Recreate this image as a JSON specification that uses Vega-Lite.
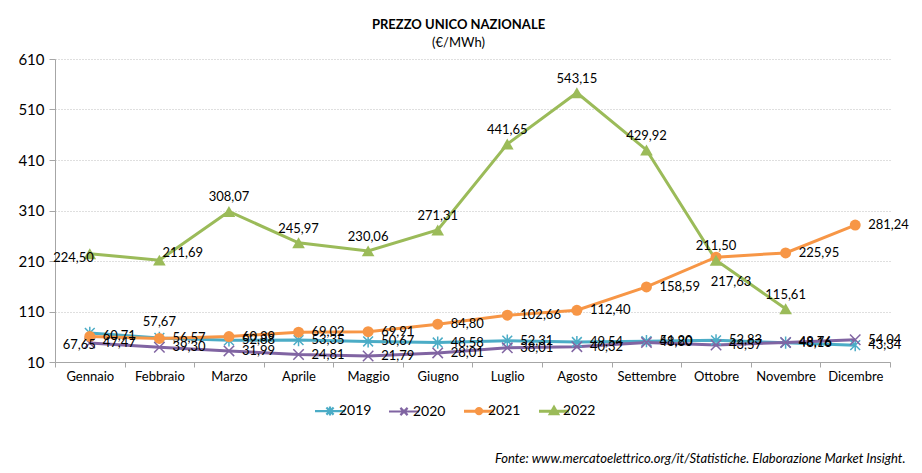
{
  "$schema": "https://vega.github.io/schema/vega-lite/v6.json",
  "width": 835,
  "height": 303,
  "autosize": {"type": "none"},
  "padding": {"left": 55, "top": 59, "right": 32, "bottom": 111},
  "background": "white",
  "title": {
    "text": "PREZZO UNICO NAZIONALE",
    "subtitle": "(€/MWh)",
    "anchor": "middle",
    "frame": "group",
    "dx": -14,
    "offset": 2,
    "font": "Lato",
    "fontSize": 13,
    "fontWeight": "bold",
    "color": "#000000",
    "subtitleFont": "Lato",
    "subtitleFontSize": 13,
    "subtitleColor": "#000000",
    "subtitlePadding": 5
  },
  "config": {
    "view": {"stroke": null},
    "locale": {"number": {"decimal": ",", "thousands": ".", "grouping": [3], "currency": ["", " €"]}},
    "text": {"font": "Lato", "fontSize": 13, "color": "#000000"}
  },
  "data": {
    "values": [
      {"month": "Gennaio", "year": "2019", "value": 67.65},
      {"month": "Febbraio", "year": "2019", "value": 57.67},
      {"month": "Marzo", "year": "2019", "value": 52.88},
      {"month": "Aprile", "year": "2019", "value": 53.35},
      {"month": "Maggio", "year": "2019", "value": 50.67},
      {"month": "Giugno", "year": "2019", "value": 48.58},
      {"month": "Luglio", "year": "2019", "value": 52.31},
      {"month": "Agosto", "year": "2019", "value": 49.54},
      {"month": "Settembre", "year": "2019", "value": 51.20},
      {"month": "Ottobre", "year": "2019", "value": 52.83},
      {"month": "Novembre", "year": "2019", "value": 48.16},
      {"month": "Dicembre", "year": "2019", "value": 43.34},
      {"month": "Gennaio", "year": "2020", "value": 47.47},
      {"month": "Febbraio", "year": "2020", "value": 39.30},
      {"month": "Marzo", "year": "2020", "value": 31.99},
      {"month": "Aprile", "year": "2020", "value": 24.81},
      {"month": "Maggio", "year": "2020", "value": 21.79},
      {"month": "Giugno", "year": "2020", "value": 28.01},
      {"month": "Luglio", "year": "2020", "value": 38.01},
      {"month": "Agosto", "year": "2020", "value": 40.32},
      {"month": "Settembre", "year": "2020", "value": 48.80},
      {"month": "Ottobre", "year": "2020", "value": 43.57},
      {"month": "Novembre", "year": "2020", "value": 48.76},
      {"month": "Dicembre", "year": "2020", "value": 54.04},
      {"month": "Gennaio", "year": "2021", "value": 60.71},
      {"month": "Febbraio", "year": "2021", "value": 56.57},
      {"month": "Marzo", "year": "2021", "value": 60.39},
      {"month": "Aprile", "year": "2021", "value": 69.02},
      {"month": "Maggio", "year": "2021", "value": 69.91},
      {"month": "Giugno", "year": "2021", "value": 84.80},
      {"month": "Luglio", "year": "2021", "value": 102.66},
      {"month": "Agosto", "year": "2021", "value": 112.40},
      {"month": "Settembre", "year": "2021", "value": 158.59},
      {"month": "Ottobre", "year": "2021", "value": 217.63},
      {"month": "Novembre", "year": "2021", "value": 225.95},
      {"month": "Dicembre", "year": "2021", "value": 281.24},
      {"month": "Gennaio", "year": "2022", "value": 224.50},
      {"month": "Febbraio", "year": "2022", "value": 211.69},
      {"month": "Marzo", "year": "2022", "value": 308.07},
      {"month": "Aprile", "year": "2022", "value": 245.97},
      {"month": "Maggio", "year": "2022", "value": 230.06},
      {"month": "Giugno", "year": "2022", "value": 271.31},
      {"month": "Luglio", "year": "2022", "value": 441.65},
      {"month": "Agosto", "year": "2022", "value": 543.15},
      {"month": "Settembre", "year": "2022", "value": 429.92},
      {"month": "Ottobre", "year": "2022", "value": 211.50},
      {"month": "Novembre", "year": "2022", "value": 115.61}
    ]
  },
  "encoding": {
    "x": {
      "field": "month",
      "type": "nominal",
      "sort": ["Gennaio", "Febbraio", "Marzo", "Aprile", "Maggio", "Giugno", "Luglio", "Agosto", "Settembre", "Ottobre", "Novembre", "Dicembre"],
      "scale": {"type": "band", "paddingInner": 0, "paddingOuter": 0},
      "axis": {
        "title": "Fonte: www.mercatoelettrico.org/it/Statistiche. Elaborazione Market Insight.",
        "titleFont": "Lato",
        "titleFontStyle": "italic",
        "titleFontWeight": "normal",
        "titleFontSize": 13,
        "titleColor": "#000000",
        "titleX": 850,
        "titleY": 96,
        "titleAlign": "right",
        "titleBaseline": "middle",
        "labelAngle": 0,
        "labelFont": "Lato",
        "labelFontSize": 13,
        "labelColor": "#000000",
        "labelPadding": 3,
        "tickBand": "extent",
        "tickSize": 5,
        "tickColor": "#a6a6a6",
        "domainColor": "#a6a6a6",
        "grid": false
      }
    },
    "y": {
      "field": "value",
      "type": "quantitative",
      "scale": {"domain": [10, 610], "nice": false, "zero": false},
      "axis": {
        "title": null,
        "values": [10, 110, 210, 310, 410, 510, 610],
        "labelFont": "Lato",
        "labelFontSize": 15,
        "labelColor": "#000000",
        "labelPadding": 5,
        "tickSize": 6,
        "tickColor": "#a6a6a6",
        "domainColor": "#a6a6a6",
        "gridColor": "#bfbfbf",
        "gridDash": [1, 2]
      }
    },
    "color": {
      "field": "year",
      "type": "nominal",
      "scale": {"domain": ["2019", "2020", "2021", "2022"], "range": ["#4BACC6", "#8064A2", "#F79646", "#9BBB59"]},
      "legend": {
        "title": null,
        "orient": "none",
        "legendX": 268,
        "legendY": 345,
        "direction": "horizontal",
        "labelFont": "Lato",
        "labelFontSize": 14,
        "labelColor": "#000000",
        "labelOffset": 2,
        "columnPadding": 12,
        "padding": 0,
        "symbolSize": 900,
        "symbolStrokeWidth": 3,
        "encode": {
          "symbols": {
            "update": {
              "shape": {"signal": "datum.value==='2019' ? 'M-1,0L1,0M0,-0.3L0,0.3M-0.24,-0.24L0.24,0.24M-0.24,0.24L0.24,-0.24' : datum.value==='2020' ? 'M-1,0L1,0M-0.24,-0.24L0.24,0.24M-0.24,0.24L0.24,-0.24' : datum.value==='2021' ? 'M-1,0L1,0M0.18,0A0.18,0.18,0,1,1,-0.18,0A0.18,0.18,0,1,1,0.18,0Z' : 'M-1,0L1,0M0,-0.26L0.24,0.16L-0.24,0.16Z'"},
              "fill": {"signal": "(datum.value==='2021' || datum.value==='2022') ? scale('color', datum.value) : 'transparent'"},
              "stroke": {"signal": "scale('color', datum.value)"},
              "strokeWidth": {"signal": "(datum.value==='2021' || datum.value==='2022') ? 3 : 2.2"},
              "opacity": {"value": 1}
            }
          }
        }
      }
    }
  },
  "layer": [
    {
      "mark": {"type": "line", "strokeWidth": 3}
    },
    {
      "transform": [{"filter": "datum.year === '2019'"}],
      "mark": {"type": "point", "filled": false, "strokeWidth": 1.5, "size": 150, "opacity": 1, "shape": "M0,-1L0,1M-0.8,-0.8L0.8,0.8M-0.8,0.8L0.8,-0.8"}
    },
    {
      "transform": [{"filter": "datum.year === '2020'"}],
      "mark": {"type": "point", "filled": false, "strokeWidth": 1.5, "size": 170, "opacity": 1, "shape": "M-0.8,-0.8L0.8,0.8M-0.8,0.8L0.8,-0.8"}
    },
    {
      "transform": [{"filter": "datum.year === '2021'"}],
      "mark": {"type": "point", "filled": true, "size": 120, "opacity": 1, "shape": "circle"}
    },
    {
      "transform": [{"filter": "datum.year === '2022'"}],
      "mark": {"type": "point", "filled": true, "size": 160, "opacity": 1, "shape": "triangle-up"}
    },
    {
      "transform": [{"filter": "(datum.year === '2019' || datum.year === '2020' || datum.year === '2021') && !(datum.year === '2019' && (datum.month === 'Gennaio' || datum.month === 'Febbraio')) && !(datum.year === '2021' && datum.month === 'Ottobre')"}],
      "mark": {"type": "text", "align": "left", "baseline": "middle", "dx": 13},
      "encoding": {"color": {"value": "#000000"}, "text": {"field": "value", "type": "quantitative", "format": ".2f"}}
    },
    {
      "transform": [{"filter": "datum.year === '2019' && datum.month === 'Gennaio'"}],
      "mark": {"type": "text", "align": "right", "baseline": "middle", "dx": 6, "dy": 12},
      "encoding": {"color": {"value": "#000000"}, "text": {"field": "value", "type": "quantitative", "format": ".2f"}}
    },
    {
      "transform": [{"filter": "datum.year === '2019' && datum.month === 'Febbraio'"}],
      "mark": {"type": "text", "align": "center", "baseline": "alphabetic", "dy": -12},
      "encoding": {"color": {"value": "#000000"}, "text": {"field": "value", "type": "quantitative", "format": ".2f"}}
    },
    {
      "transform": [{"filter": "datum.year === '2021' && datum.month === 'Ottobre'"}],
      "mark": {"type": "text", "align": "center", "baseline": "middle", "dx": 15, "dy": 25},
      "encoding": {"color": {"value": "#000000"}, "text": {"field": "value", "type": "quantitative", "format": ".2f"}}
    },
    {
      "transform": [{"filter": "datum.year === '2022' && datum.month !== 'Gennaio' && datum.month !== 'Febbraio'"}],
      "mark": {"type": "text", "align": "center", "baseline": "alphabetic", "dy": -10},
      "encoding": {"color": {"value": "#000000"}, "text": {"field": "value", "type": "quantitative", "format": ".2f"}}
    },
    {
      "transform": [{"filter": "datum.year === '2022' && datum.month === 'Gennaio'"}],
      "mark": {"type": "text", "align": "right", "baseline": "middle", "dx": 4, "dy": 4},
      "encoding": {"color": {"value": "#000000"}, "text": {"field": "value", "type": "quantitative", "format": ".2f"}}
    },
    {
      "transform": [{"filter": "datum.year === '2022' && datum.month === 'Febbraio'"}],
      "mark": {"type": "text", "align": "left", "baseline": "alphabetic", "dx": 3, "dy": -3},
      "encoding": {"color": {"value": "#000000"}, "text": {"field": "value", "type": "quantitative", "format": ".2f"}}
    }
  ]
}
